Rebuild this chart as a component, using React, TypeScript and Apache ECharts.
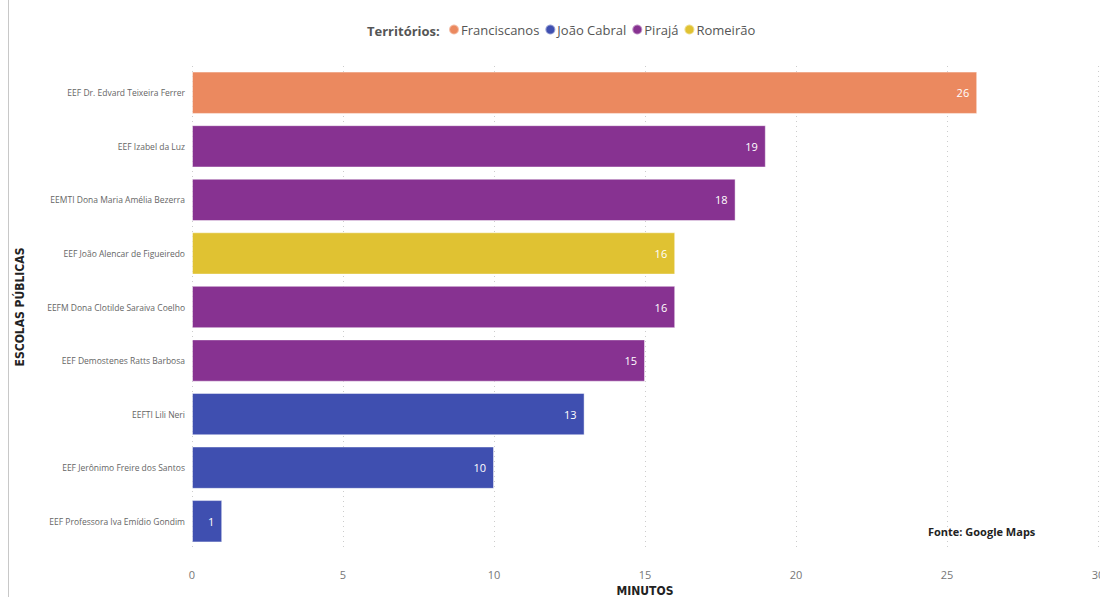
import React, { useEffect, useRef } from "react";
import * as echarts from "echarts";

const schools = [
  "EEF Dr. Edvard Teixeira Ferrer",
  "EEF Izabel da Luz",
  "EEMTI Dona Maria Amélia Bezerra",
  "EEF João Alencar de Figueiredo",
  "EEFM Dona Clotilde Saraiva Coelho",
  "EEF Demostenes Ratts Barbosa",
  "EEFTI Lili Neri",
  "EEF Jerônimo Freire dos Santos",
  "EEF Professora Iva Emídio Gondim",
];
const minutes = [26, 19, 18, 16, 16, 15, 13, 10, 1];
const territoryOf = [
  "Franciscanos",
  "Pirajá",
  "Pirajá",
  "Romeirão",
  "Pirajá",
  "Pirajá",
  "João Cabral",
  "João Cabral",
  "João Cabral",
];
const territories = ["Franciscanos", "João Cabral", "Pirajá", "Romeirão"];
const territoryColors = ["#EB895F", "#3F4FB0", "#873291", "#E0C232"];
const xTicks = { min: 0, max: 30, interval: 5 };

const FONT = "'Open Sans', 'Noto Sans', sans-serif";
const TITLE_FONT = "'DejaVu Sans Condensed', 'DejaVu Sans', sans-serif";

export default function App() {
  const ref = useRef<HTMLDivElement>(null);
  useEffect(() => {
    if (!ref.current) return;
    const chart = echarts.init(ref.current, undefined, { renderer: "svg" });
    const series = territories.map((t, ti) => ({
      type: "bar",
      name: t,
      stack: "all",
      barCategoryGap: "21%",
      itemStyle: {
        color: territoryColors[ti],
        borderColor: "rgba(255,255,255,0.45)",
        borderWidth: 1,
      },
      label: {
        show: true,
        position: "insideRight",
        distance: 8,
        color: "#ffffff",
        fontSize: 11,
        fontFamily: FONT,
        formatter: (p: any) => (p.value == null ? "" : String(p.value)),
      },
      data: minutes.map((v, i) => (territoryOf[i] === t ? v : null)),
    }));
    chart.setOption({
      animation: false,
      backgroundColor: "#ffffff",
      textStyle: { fontFamily: FONT },
      legend: {
        data: territories,
        left: 443,
        top: 18,
        icon: "circle",
        itemWidth: 10,
        itemHeight: 10,
        itemGap: 5,
        textStyle: { fontSize: 13, color: "#555555", fontFamily: FONT, padding: [0, 0, 0, -3] },
      },
      grid: {
        left: 192,
        right: 2,
        top: 66,
        bottom: 49,
        containLabel: false,
        outerBoundsMode: "none",
      },
      xAxis: {
        type: "value",
        min: xTicks.min,
        max: xTicks.max,
        interval: xTicks.interval,
        name: "MINUTOS",
        nameLocation: "middle",
        nameGap: 36,
        nameTextStyle: { fontSize: 12, fontWeight: "bold", color: "#222222", fontFamily: TITLE_FONT },
        axisLine: { show: false },
        axisTick: { show: false },
        axisLabel: { color: "#777777", fontSize: 11, margin: 21 },
        splitLine: { show: true, lineStyle: { color: "#cccccc", type: [1, 4], width: 1 } },
      },
      yAxis: {
        type: "category",
        inverse: true,
        data: schools,
        name: "ESCOLAS PÚBLICAS",
        nameLocation: "middle",
        nameGap: 166,
        nameRotate: 90,
        nameTextStyle: { fontSize: 12, fontWeight: "bold", color: "#222222", fontFamily: TITLE_FONT },
        axisLine: { show: false },
        axisTick: { show: false },
        axisLabel: { color: "#666666", fontSize: 8.5, margin: 7, fontFamily: FONT },
      },
      graphic: [
        {
          type: "line",
          shape: { x1: 8.5, y1: 0, x2: 8.5, y2: 597 },
          style: { stroke: "#c8c8c8", lineWidth: 1 },
          silent: true,
        },
        {
          type: "text",
          left: 367,
          top: 24,
          style: {
            text: "Territórios:",
            fontSize: 13,
            fontWeight: "bold",
            fill: "#555555",
            fontFamily: FONT,
          },
        },
        {
          type: "text",
          left: 928,
          top: 526,
          style: {
            text: "Fonte: Google Maps",
            fontSize: 11,
            fontWeight: "bold",
            fill: "#222222",
            fontFamily: FONT,
          },
        },
      ],
      series,
    });
    return () => chart.dispose();
  }, []);
  return (
    <div
      ref={ref}
      style={{ position: "fixed", left: 0, top: 0, width: 1100, height: 597 }}
    />
  );
}
